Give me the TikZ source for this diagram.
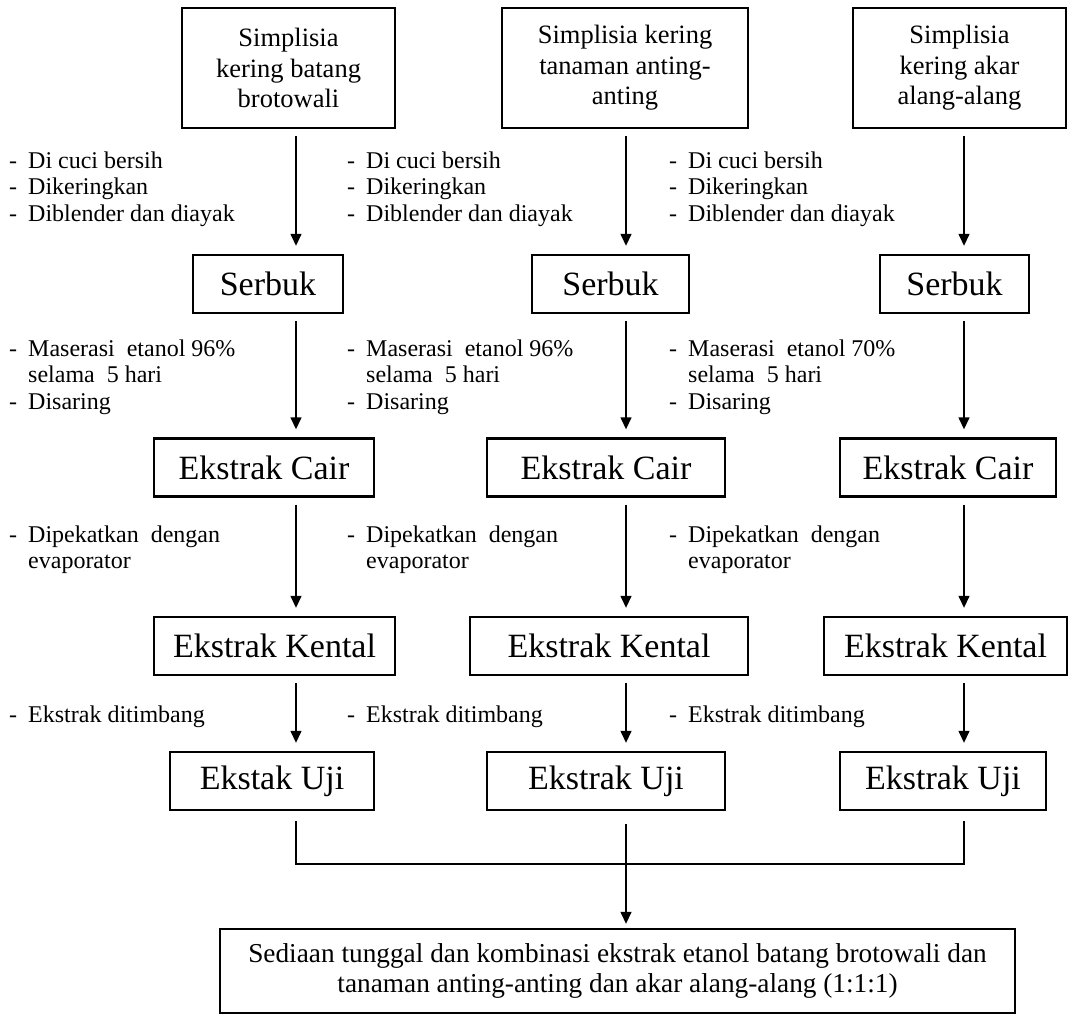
\documentclass[tikz,border=0pt]{standalone}
\usepackage{fontspec}
\setmainfont{Liberation Serif}
\usetikzlibrary{arrows.meta}

\begin{document}
\begin{tikzpicture}[
    x=1pt, y=-1pt,
    box/.style={
        draw,
        line width=2.4pt,
        align=center,
        inner sep=0pt
    },
    topbox/.style={
        box,
        font=\fontsize{26.5}{30.5}\selectfont,
        minimum height=120pt
    },
    midbox/.style={
        box,
        font=\fontsize{34}{38}\selectfont,
        minimum height=58pt
    },
    finalbox/.style={
        box,
        font=\fontsize{27.3}{30.5}\selectfont,
        minimum height=84pt
    },
    note/.style={
        anchor=base west,
        inner sep=0pt,
        font=\fontsize{24}{26.5}\selectfont
    },
    arrow/.style={
        -{Triangle[length=12pt, width=11pt]},
        line width=1.4pt,
        shorten <=7pt,
        shorten >=8pt
    },
    joinline/.style={
        line width=1.2pt
    }
]

\useasboundingbox (0,0) rectangle (1073,1021);

% column axes of the arrows
\coordinate (x1) at (296,0);
\coordinate (x2) at (626,0);
\coordinate (x3) at (964,0);
\coordinate (mj) at (626,864);

% ========== SIMPLISIA ==========

\node[topbox, minimum width=213pt] (b1) at (288.5,68) {Simplisia\\kering batang\\brotowali};
\node[topbox, minimum width=246pt] (b2) at (625,68) {Simplisia kering\\tanaman anting-\\anting};
\node[topbox, minimum width=213pt] (b3) at (959.5,68) {Simplisia\\kering akar\\alang-alang};

% ========== SERBUK ==========

\node[midbox, minimum width=150pt] (s1) at (268,284) {Serbuk};
\node[midbox, minimum width=157pt] (s2) at (610.5,284) {Serbuk};
\node[midbox, minimum width=149pt] (s3) at (954.5,284) {Serbuk};

% ========== EKSTRAK CAIR ==========

\node[midbox, minimum width=220pt] (c1) at (264,467.5) {Ekstrak Cair};
\node[midbox, minimum width=238pt] (c2) at (606,467.5) {Ekstrak Cair};
\node[midbox, minimum width=216pt] (c3) at (948,467.5) {Ekstrak Cair};

% ========== EKSTRAK KENTAL ==========

\node[midbox, minimum width=241pt] (k1) at (274.5,646) {Ekstrak Kental};
\node[midbox, minimum width=278pt] (k2) at (609,646) {Ekstrak Kental};
\node[midbox, minimum width=243pt] (k3) at (945.5,646) {Ekstrak Kental};

% ========== EKSTRAK UJI ==========

\node[midbox, minimum width=204pt] (u1) at (272,781) {Ekstak Uji};
\node[midbox, minimum width=238pt] (u2) at (606,781) {Ekstrak Uji};
\node[midbox, minimum width=206pt] (u3) at (943,781) {Ekstrak Uji};

% ========== SEDIAAN ==========

\node[finalbox, minimum width=795pt] (fin) at (617.5,971) {Sediaan tunggal dan kombinasi ekstrak etanol batang brotowali dan\\tanaman anting-anting dan akar alang-alang (1:1:1)};

% ========== NOTES ==========

\node[note] (n11) at (9,168) {\begin{tabular}[t]{@{}l@{\hspace{11pt}}l@{}}-&Di cuci bersih\\-&Dikeringkan\\-&Diblender dan diayak\end{tabular}};
\node[note] (n12) at (347,168) {\begin{tabular}[t]{@{}l@{\hspace{11pt}}l@{}}-&Di cuci bersih\\-&Dikeringkan\\-&Diblender dan diayak\end{tabular}};
\node[note] (n13) at (669,168) {\begin{tabular}[t]{@{}l@{\hspace{11pt}}l@{}}-&Di cuci bersih\\-&Dikeringkan\\-&Diblender dan diayak\end{tabular}};

\node[note] (n21) at (9,356) {\begin{tabular}[t]{@{}l@{\hspace{11pt}}l@{}}-&Maserasi\ \ etanol 96\%\\&selama\ \ 5 hari\\-&Disaring\end{tabular}};
\node[note] (n22) at (347,356) {\begin{tabular}[t]{@{}l@{\hspace{11pt}}l@{}}-&Maserasi\ \ etanol 96\%\\&selama\ \ 5 hari\\-&Disaring\end{tabular}};
\node[note] (n23) at (669,356) {\begin{tabular}[t]{@{}l@{\hspace{11pt}}l@{}}-&Maserasi\ \ etanol 70\%\\&selama\ \ 5 hari\\-&Disaring\end{tabular}};

\node[note] (n31) at (9,542) {\begin{tabular}[t]{@{}l@{\hspace{11pt}}l@{}}-&Dipekatkan\ \ dengan\\&evaporator\end{tabular}};
\node[note] (n32) at (347,542) {\begin{tabular}[t]{@{}l@{\hspace{11pt}}l@{}}-&Dipekatkan\ \ dengan\\&evaporator\end{tabular}};
\node[note] (n33) at (669,542) {\begin{tabular}[t]{@{}l@{\hspace{11pt}}l@{}}-&Dipekatkan\ \ dengan\\&evaporator\end{tabular}};

\node[note] (n41) at (9,722) {\begin{tabular}[t]{@{}l@{\hspace{11pt}}l@{}}-&Ekstrak ditimbang\end{tabular}};
\node[note] (n42) at (347,722) {\begin{tabular}[t]{@{}l@{\hspace{11pt}}l@{}}-&Ekstrak ditimbang\end{tabular}};
\node[note] (n43) at (669,722) {\begin{tabular}[t]{@{}l@{\hspace{11pt}}l@{}}-&Ekstrak ditimbang\end{tabular}};

% ========== ARROWS ==========

\draw[arrow] (b1.south -| x1) -- (s1.north -| x1);
\draw[arrow] (b2.south -| x2) -- (s2.north -| x2);
\draw[arrow] (b3.south -| x3) -- (s3.north -| x3);

\draw[arrow] (s1.south -| x1) -- (c1.north -| x1);
\draw[arrow] (s2.south -| x2) -- (c2.north -| x2);
\draw[arrow] (s3.south -| x3) -- (c3.north -| x3);

\draw[arrow] (c1.south -| x1) -- (k1.north -| x1);
\draw[arrow] (c2.south -| x2) -- (k2.north -| x2);
\draw[arrow] (c3.south -| x3) -- (k3.north -| x3);

\draw[arrow] (k1.south -| x1) -- (u1.north -| x1);
\draw[arrow] (k2.south -| x2) -- (u2.north -| x2);
\draw[arrow] (k3.south -| x3) -- (u3.north -| x3);

% ========== JOIN ==========

\draw[joinline, shorten <=10pt, shorten >=10pt] (u1.south -| x1) -- (x1 |- mj) -- (x3 |- mj) -- (u3.south -| x3);
\draw[arrow, shorten <=13pt, shorten >=4pt] (u2.south -| x2) -- (fin.north -| x2);

\end{tikzpicture}
\end{document}
